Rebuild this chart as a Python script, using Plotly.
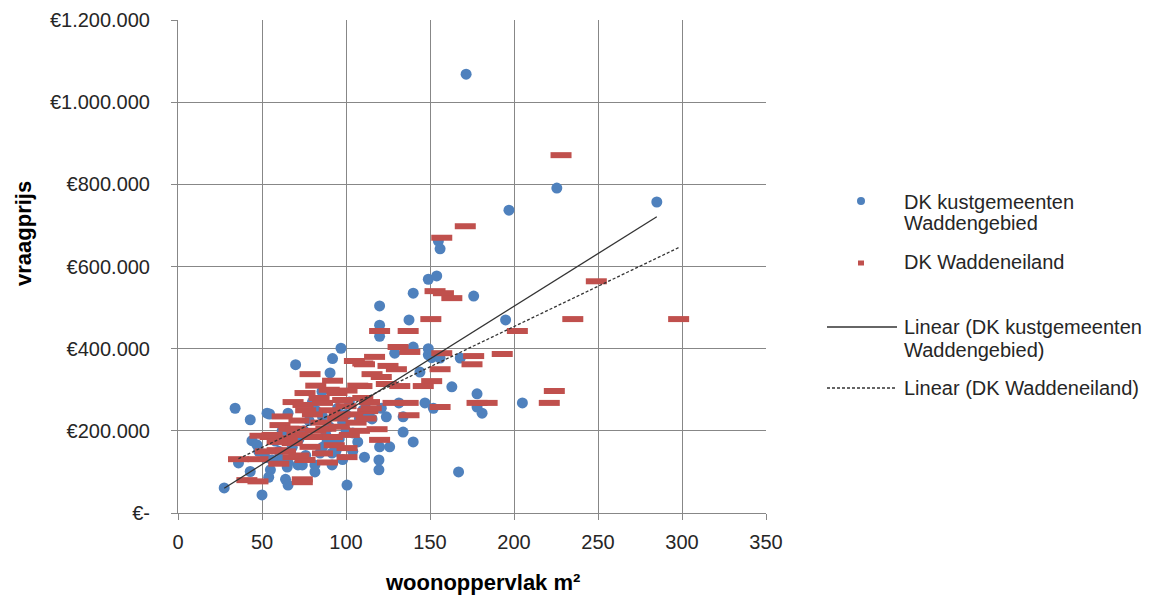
import numpy as np
import plotly.graph_objects as go

# ---- data (woonoppervlak m², vraagprijs €) ----
kust_x = [171.5, 225.5, 197, 285, 155, 156, 149, 154, 176, 140, 120, 137.5, 195, 120, 120,
          97, 92, 70, 129, 140, 149, 149, 151, 156, 168, 144, 163, 178, 178, 181, 205, 147,
          152, 134, 134, 140, 167, 131.5, 121, 115.5, 124, 113, 90.5, 85.7, 80, 102, 34, 43,
          53, 54.5, 65.5, 44, 47, 36, 43, 55, 54, 64, 65.5, 27.5, 50, 100.6, 81.5, 81.5, 71.4,
          65, 61, 91.7, 91.7, 84.5, 111, 107, 93.5, 88.7, 120, 126, 119.6, 119.6, 74, 56, 65.5,
          75, 78, 82, 86, 90, 95, 98, 100, 104, 108, 72, 68, 60, 58, 62, 66, 96, 100, 110, 112,
          88, 76, 86, 94, 98, 104, 52, 48]
kust_y = [1068, 791, 737, 757, 662, 643, 569, 577, 528, 535, 504, 470, 470, 457, 430,
          401, 376, 361, 389, 404, 400, 385, 378, 377, 377, 343, 307, 290, 258, 243, 268, 268,
          255, 234, 197, 173, 100, 268, 255, 229, 234, 234, 341, 296, 270, 270, 255, 227,
          243, 241, 243, 176, 166, 122, 101, 105, 87, 82, 68, 61, 44, 68, 117, 100, 117,
          112, 129, 117, 146, 146, 136, 173, 172, 173, 161, 161, 129, 105, 117, 129, 122,
          200, 225, 250, 235, 210, 255, 220, 240, 195, 230, 180, 160, 150, 175, 200, 190, 180, 200, 250, 270,
          190, 140, 160, 150, 130, 150, 135, 150]

eiland_x = [228, 171, 157, 249, 153, 158, 163, 150.5, 235, 298, 202, 120, 137, 193, 131, 138,
            157, 176, 175, 117, 111, 125, 130, 115.5, 121, 156, 124, 132, 151, 146, 109.5, 128,
            137, 178, 184, 221, 224, 156, 137.5, 113, 114, 78.6, 92, 75.6, 94.6, 105, 110, 107,
            100.6, 68.5, 74.4, 86, 60.7, 54.8, 48.8, 36, 47.6, 41, 47.6, 74, 74, 100.6, 100.6,
            89, 65, 78.6, 59, 68.5, 70.8, 68, 59, 118.5, 120, 75.6,
            80, 85, 90, 95, 82, 88, 92, 96, 100, 104, 72, 66, 62, 76, 84, 98, 80, 86, 93, 70,
            64, 56, 110, 115, 106, 102, 72, 90, 82, 96, 108, 112, 60, 52]
eiland_y = [871, 698, 670, 564, 540, 535, 523, 472, 472, 472, 443, 443, 443, 387, 404, 392,
            389, 382, 362, 380, 362, 358, 350, 338, 331, 350, 314, 309, 321, 309, 309, 268,
            268, 268, 268, 268, 297, 258, 238, 248, 270, 338, 322, 292, 292, 370, 364, 310,
            298, 270, 263, 268, 214, 185, 188, 131, 131, 80, 77, 75, 82, 136, 158,
            123, 182, 161, 153, 136, 190, 170, 173, 204, 178, 129,
            240, 220, 250, 230, 200, 205, 185, 210, 260, 240, 225, 205, 235, 250, 280, 275, 185, 145, 165, 205,
            150, 190, 280, 255, 220, 190, 140, 300, 310, 240, 200, 230, 120, 150]

name_kust = "DK kustgemeenten Waddengebied"
name_eiland = "DK Waddeneiland"

y_tickvals = [0, 200000, 400000, 600000, 800000, 1000000, 1200000]
y_ticktext = ["€-", "€200.000", "€400.000", "€600.000", "€800.000", "€1.000.000", "€1.200.000"]
x_tickvals = [0, 50, 100, 150, 200, 250, 300, 350]

BLUE = "#4F81BD"
RED = "#C0504D"
GRID = "#878787"
TXT = "#262626"
FONT = "Liberation Sans, Arial, sans-serif"

kx = np.array(kust_x, float); ky = np.array(kust_y, float) * 1000
ex = np.array(eiland_x, float); ey = np.array(eiland_y, float) * 1000

fig = go.Figure()
fig.add_trace(go.Scatter(x=kx, y=ky, mode="markers", name=name_kust,
                         marker=dict(symbol="circle", size=11, color=BLUE, line=dict(width=0))))
fig.add_trace(go.Scatter(x=ex, y=ey, mode="markers", name=name_eiland,
                         marker=dict(symbol="line-ew", size=15, color=RED,
                                     line=dict(width=6, color=RED))))

# linear trendlines (least squares, over data range)
for xs, ys, dash in [(kx, ky, "solid"), (ex, ey, "3px,2px")]:
    b, a = np.polyfit(xs, ys, 1)
    lx = np.array([xs.min(), xs.max()])
    fig.add_trace(go.Scatter(x=lx, y=a + b * lx, mode="lines", showlegend=False,
                             line=dict(color="#333333", width=1.3, dash=dash)))

# page has an 8px body margin; work in page pixels and shift
OFF = 8
PW, PH = 1167, 599
W, H = PW - OFF, PH - OFF
L, R, T, B = 178, 766, 20, 513          # plot area in page pixels
pw, ph = R - L, B - T

def px(x):
    return (x - L) / pw

def py(y):
    return (B - y) / ph

fig.update_layout(
    width=W, height=H,
    margin=dict(l=L - OFF, r=PW - R, t=T - OFF, b=PH - B, pad=0, autoexpand=False),
    paper_bgcolor="white", plot_bgcolor="white",
    showlegend=False,
    font=dict(family=FONT, size=20, color=TXT),
    xaxis=dict(range=[0, 350], tickvals=x_tickvals, showgrid=True, gridcolor=GRID, gridwidth=1,
               showline=True, linecolor=GRID, linewidth=1, ticks="outside", ticklen=6,
               tickcolor=GRID, zeroline=False, ticklabelstandoff=5, automargin=False,
               tickfont=dict(family=FONT, size=20, color=TXT)),
    yaxis=dict(range=[0, 1200000], tickvals=y_tickvals, ticktext=y_ticktext, showgrid=True,
               gridcolor=GRID, gridwidth=1, showline=True, linecolor=GRID, linewidth=1,
               ticks="outside", ticklen=6, tickcolor=GRID, zeroline=False, automargin=False,
               ticklabelstandoff=17, tickfont=dict(family=FONT, size=20, color=TXT)),
)

ann = []
# axis titles
ann.append(dict(text="<b>vraagprijs</b>", x=px(24), y=py(234), xref="paper", yref="paper",
                textangle=-90, showarrow=False, font=dict(size=22, color="#000000", family=FONT),
                xanchor="center", yanchor="middle"))
ann.append(dict(text="<b>woonoppervlak m²</b>", x=px(482), y=py(582), xref="paper", yref="paper",
                showarrow=False, font=dict(size=22, color="#000000", family=FONT),
                xanchor="center", yanchor="middle"))

# legend (drawn manually to match layout)
leg_lines = [("DK kustgemeenten", 202), ("Waddengebied", 223), ("DK Waddeneiland", 262),
             ("Linear (DK kustgemeenten", 327), ("Waddengebied)", 350),
             ("Linear (DK Waddeneiland)", 388)]
for t, yy in leg_lines:
    ann.append(dict(text=t, x=px(902), y=py(yy), xref="paper", yref="paper", showarrow=False,
                    xanchor="left", yanchor="middle", font=dict(size=20, color=TXT, family=FONT)))
fig.update_layout(annotations=ann)

shapes = [
    dict(type="circle", xref="paper", yref="paper", x0=px(857), x1=px(865), y0=py(205), y1=py(197),
         fillcolor=BLUE, line=dict(width=0)),
    dict(type="rect", xref="paper", yref="paper", x0=px(858), x1=px(864), y0=py(265.5), y1=py(260.5),
         fillcolor=RED, line=dict(width=0)),
    dict(type="line", xref="paper", yref="paper", x0=px(827), x1=px(897), y0=py(327), y1=py(327),
         line=dict(color="#333333", width=1.3)),
    dict(type="line", xref="paper", yref="paper", x0=px(827), x1=px(897), y0=py(388), y1=py(388),
         line=dict(color="#333333", width=1.3, dash="3px,2px")),
]
fig.update_layout(shapes=shapes)

fig.write_html("out.html")
